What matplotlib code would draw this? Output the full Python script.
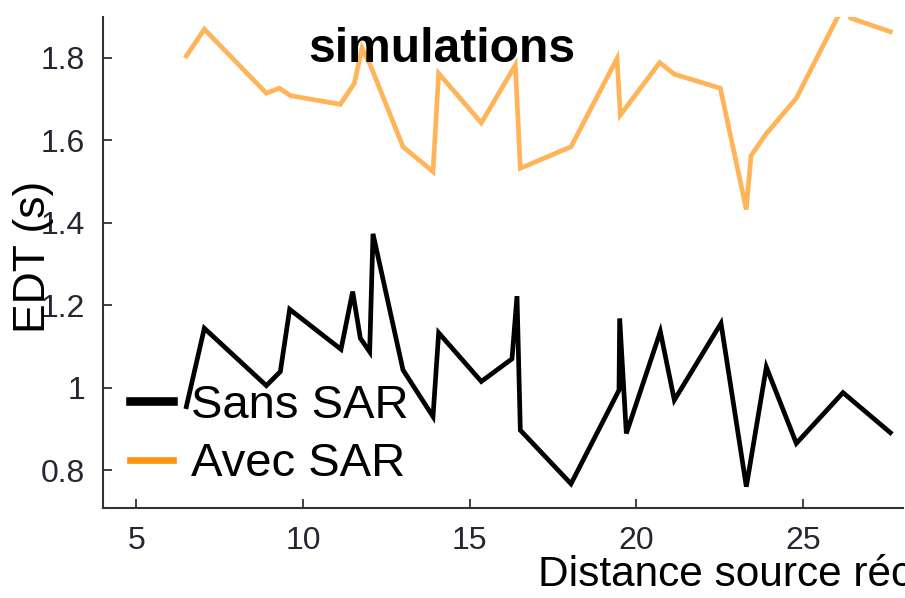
import matplotlib
matplotlib.use("Agg")
import matplotlib.pyplot as plt
from matplotlib.lines import Line2D
from matplotlib import font_manager

# ---- data ----
x_sans = [6.5, 7.04, 8.9, 9.32, 9.6, 11.14, 11.49, 11.72, 12.0, 12.1, 13.0, 13.9,
          14.07, 15.35, 16.27, 16.42, 16.52, 18.04, 19.48, 19.5, 19.7, 20.72, 21.14,
          22.54, 23.3, 23.9, 24.8, 26.2, 27.62]
edt_sans = [0.954, 1.144, 1.005, 1.039, 1.19, 1.093, 1.233, 1.12, 1.087, 1.373, 1.043, 0.93,
            1.133, 1.015, 1.07, 1.222, 0.897, 0.767, 0.994, 1.168, 0.889, 1.136, 0.97,
            1.156, 0.76, 1.05, 0.865, 0.988, 0.891]

x_avec = [6.5, 7.04, 8.9, 9.29, 9.62, 11.12, 11.54, 11.77, 12.02, 13.0, 13.9, 14.07,
          15.35, 16.37, 16.52, 18.04, 19.42, 19.52, 20.7, 21.14, 22.52, 23.3, 23.44,
          23.87, 24.8, 26.3, 26.43, 27.62]
edt_avec = [1.804, 1.869, 1.714, 1.726, 1.708, 1.687, 1.738, 1.823, 1.782, 1.584, 1.524, 1.762,
            1.642, 1.782, 1.532, 1.584, 1.798, 1.661, 1.788, 1.76, 1.726, 1.432, 1.562,
            1.613, 1.702, 1.94, 1.896, 1.863]

series_labels = ["Sans SAR", "Avec SAR"]
x_ticks = [5, 10, 15, 20, 25]
y_ticks = [0.8, 1.0, 1.2, 1.4, 1.6, 1.8]
y_ticklabels = ["0.8", "1", "1.2", "1.4", "1.6", "1.8"]
title_text = "simulations"
xlabel_text = "Distance source récepteur (m)"
ylabel_text = "EDT (s)"

# ---- fonts ----
names = {f.name for f in font_manager.fontManager.ttflist}
main_font = "Liberation Sans" if "Liberation Sans" in names else "DejaVu Sans"
plt.rcParams['font.family'] = [main_font, 'DejaVu Sans']

W, H = 905, 598
fig = plt.figure(figsize=(W / 100, H / 100), dpi=100)
ax = fig.add_axes([103 / W, 1 - 508.3 / H, (903 - 103) / W, (508.3 - 16.7) / H])

orange = '#ff9514'
ax.plot(x_sans, edt_sans, color='black', lw=3.4, solid_joinstyle='miter')
ax.plot(x_avec, edt_avec, color=orange, alpha=0.7, lw=3.4, solid_joinstyle='miter')

ax.set_xlim(4, 28)
ax.set_ylim(0.7076, 1.8994)
ax.set_xticks(x_ticks)
ax.set_yticks(y_ticks)
ax.set_yticklabels(y_ticklabels)

for s in ['top', 'right']:
    ax.spines[s].set_visible(False)
for s in ['left', 'bottom']:
    ax.spines[s].set_color('#333333')
    ax.spines[s].set_linewidth(1.5)

ax.tick_params(direction='in', length=6.5, width=1.3, color='#333333',
               labelcolor='#262633', labelsize=23)
ax.tick_params(axis='y', pad=13)
ax.tick_params(axis='x', pad=13)

fig.text(442 / W, 1 - 50 / H, title_text, ha='center', va='center',
         fontsize=34.6, fontweight='bold', color='black')

fig.text(538 / W, 1 - 586 / H, xlabel_text, ha='left', va='baseline',
         fontsize=30.5, color='black')
fig.text(33 / W, 1 - 257 / H, ylabel_text, ha='center', va='center',
         rotation=90, fontsize=32, color='black')

handles = [Line2D([0], [0], color='black', lw=6.2),
           Line2D([0], [0], color=orange, lw=4.8)]
leg = ax.legend(handles, series_labels, loc='upper left', frameon=False,
                bbox_to_anchor=(130 / W, 1 - 384 / H), bbox_transform=fig.transFigure,
                fontsize=34, handlelength=0.9, handletextpad=0.4,
                labelspacing=0.3, borderpad=0, borderaxespad=0)

fig.savefig('out.png', dpi=100)
